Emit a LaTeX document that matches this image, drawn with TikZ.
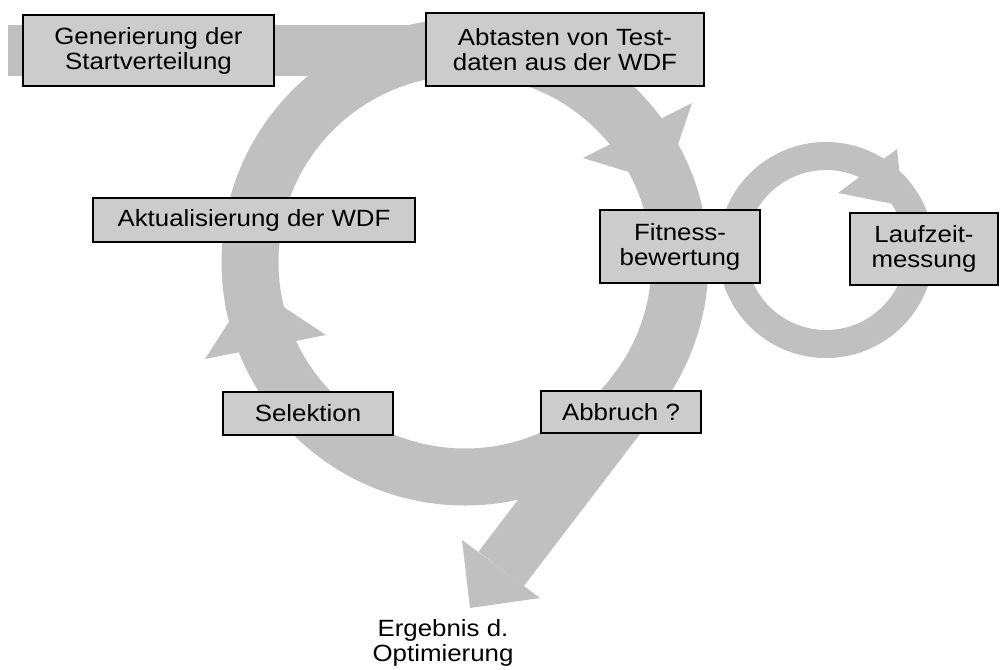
\documentclass[tikz,border=0pt]{standalone}
\usepackage{fontspec}
\setmainfont[FakeStretch=1.1]{Liberation Sans}
\definecolor{band}{HTML}{C0C0C0}
\definecolor{boxfill}{HTML}{CCCCCC}
\begin{document}
\begin{tikzpicture}[x=1pt,y=-1pt,
  stage/.style={draw=black, line width=1.5pt, fill=boxfill, align=center,
    inner sep=0pt, font=\fontsize{23.5pt}{25pt}\selectfont},
  plain/.style={align=center, inner sep=0pt, font=\fontsize{23.5pt}{25pt}\selectfont},
  bigband/.style={draw=band, line width=57pt},
  smallband/.style={draw=band, line width=28pt},
  head/.style={fill=band}]
\useasboundingbox (0,0) rectangle (1000,669);
\coordinate (C) at (465,262);
\coordinate (S) at (826,250);
% small loop
\draw[smallband] (S) circle[radius=94pt];
% big loop
\draw[bigband] (C) circle[radius=215pt];
% entry bar
\fill[band] (8,25) rectangle (465,76);
% exit shaft
\coordinate (E0) at (640,387);
\coordinate (E1) at (501,569);
\draw[bigband] (E0) -- (E1);
% arrow heads
\fill[head] (583,158) -- (692,103) -- (665,183) -- cycle;
\fill[head] (205,359) -- (326,335) -- (252,286) -- cycle;
\fill[head] (838,193) -- (897,149) -- (903,206) -- cycle;
\fill[head] (462,540) -- (540,598) -- (470,608) -- cycle;
% boxes
\node[stage, minimum width=251pt, minimum height=71pt] (gen) at (148.5,50.5) {Generierung der\\Startverteilung};
\node[stage, minimum width=278pt, minimum height=73pt] (abt) at (565,49.5) {Abtasten von Test-\\daten aus der WDF};
\node[stage, minimum width=322pt, minimum height=44pt] (akt) at (254,220) {Aktualisierung der WDF};
\node[stage, minimum width=170pt, minimum height=43pt] (sel) at (308,413.5) {Selektion};
\node[stage, minimum width=160pt, minimum height=73pt] (fit) at (680,246.5) {Fitness-\\bewertung};
\node[stage, minimum width=148pt, minimum height=72pt] (lauf) at (924,249) {Laufzeit-\\messung};
\node[stage, minimum width=160pt, minimum height=42pt] (abb) at (621,412) {Abbruch ?};
\node[plain] (erg) at (443,643) {Ergebnis d.\\Optimierung};
\end{tikzpicture}
\end{document}
